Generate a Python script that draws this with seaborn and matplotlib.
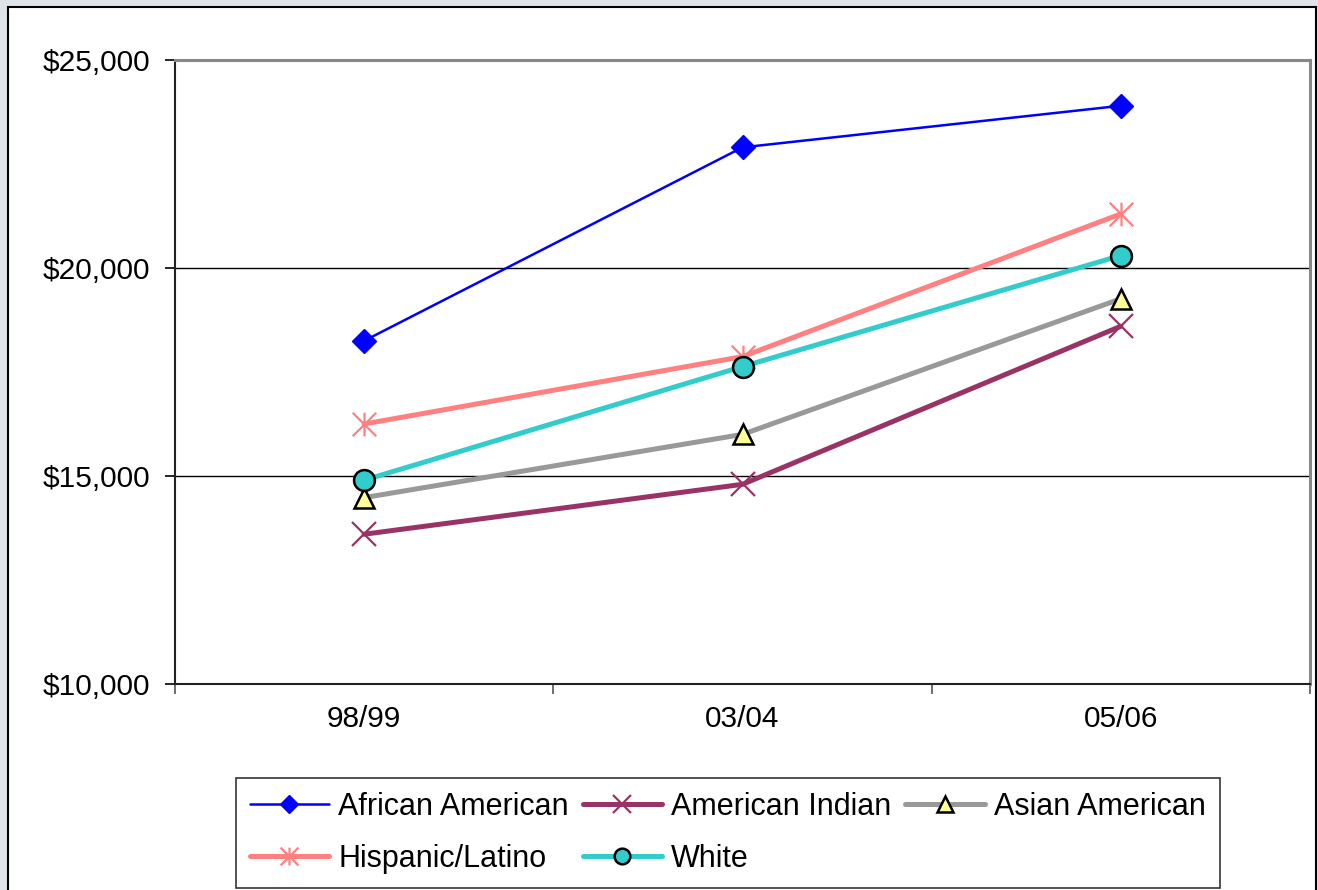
import matplotlib
matplotlib.use("Agg")
import matplotlib.pyplot as plt
import seaborn as sns
import pandas as pd
from matplotlib.path import Path
from matplotlib.patches import Rectangle
from matplotlib.ticker import FuncFormatter, FixedLocator

years = ["98/99", "03/04", "05/06"]
african_american = [18250, 22900, 23900]
american_indian = [13600, 14800, 18600]
asian_american = [14480, 16000, 19260]
hispanic_latino = [16250, 17870, 21300]
white = [14900, 17630, 20300]

series_names = ["African American", "American Indian", "Asian American",
                "Hispanic/Latino", "White"]
series_values = [african_american, american_indian, asian_american,
                 hispanic_latino, white]

sns.set_theme(style="white")
plt.rcParams['font.family'] = ['Liberation Sans', 'DejaVu Sans']
plt.rcParams['text.color'] = 'black'

W, H = 1318, 890
fig = plt.figure(figsize=(W / 100, H / 100), dpi=100, facecolor="#dfe4eb")

# white panel with black border
fig.patches.append(Rectangle((8 / W, -0.01), (1316 - 8) / W, 1 - 7 / H + 0.01,
                             transform=fig.transFigure, facecolor="white",
                             edgecolor="black", linewidth=1.5, zorder=-5))

ax = fig.add_axes([175 / W, 1 - 684 / H, (1310 - 175) / W, (684 - 60) / H])
ax.set_facecolor("white")
ax.set_zorder(2)

asterisk = Path([(0, -1), (0, 1), (-1, -1), (1, 1), (-1, 1), (1, -1)],
                [Path.MOVETO, Path.LINETO, Path.MOVETO, Path.LINETO,
                 Path.MOVETO, Path.LINETO])

styles = {
    "African American": dict(color="#0000ff", lw=1.8, marker="D", ms=12,
                             mfc="#0000ff", mec="#0000ff", mew=1),
    "American Indian": dict(color="#993366", lw=3.6, marker="x", ms=17,
                            mfc="#993366", mec="#993366", mew=1.6),
    "Asian American": dict(color="#999999", lw=3.6, marker="^", ms=15,
                           mfc="#ffff99", mec="black", mew=1.8),
    "Hispanic/Latino": dict(color="#ff8080", lw=3.6, marker=asterisk, ms=17,
                            mfc="#ff8080", mec="#ff8080", mew=1.6),
    "White": dict(color="#33cccc", lw=3.6, marker="o", ms=15,
                  mfc="#33cccc", mec="black", mew=1.8),
}

handles = {}
for name, vals in zip(series_names, series_values):
    df = pd.DataFrame({"year": years, "value": vals})
    st = styles[name]
    sns.lineplot(data=df, x="year", y="value", ax=ax, color=st["color"],
                 linewidth=st["lw"], marker=st["marker"], markersize=st["ms"],
                 markerfacecolor=st["mfc"], markeredgecolor=st["mec"],
                 markeredgewidth=st["mew"], label=name, sort=False, zorder=3)
    handles[name] = ax.get_lines()[-1]

ax.set_xlim(-0.5, 2.5)
ax.set_ylim(10000, 25000)
ax.set_yticks([10000, 15000, 20000, 25000])
ax.yaxis.set_major_formatter(FuncFormatter(lambda v, p: f"${v:,.0f}"))
ax.grid(axis="y", color="black", linewidth=1.0)
ax.set_axisbelow(True)
ax.set_xlabel("")
ax.set_ylabel("")

ax.xaxis.set_minor_locator(FixedLocator([-0.5, 0.5, 1.5, 2.5]))
ax.tick_params(axis="x", which="major", length=0, pad=15, labelsize=21.5,
               colors="black")
ax.tick_params(axis="x", which="minor", length=7, width=1.2, color="#555555",
               direction="out", bottom=True)
ax.tick_params(axis="y", which="major", length=7, width=1.2, color="black",
               direction="out", left=True, pad=11, labelsize=21.5,
               labelcolor="black")

for side in ["left", "bottom"]:
    ax.spines[side].set_color("#222222")
    ax.spines[side].set_linewidth(1.5)
for side in ["top", "right"]:
    ax.spines[side].set_color("#888888")
    ax.spines[side].set_linewidth(2.2)

ax.get_legend().remove()
order = ["African American", "Hispanic/Latino", "American Indian", "White",
         "Asian American"]
leg = fig.legend([handles[n] for n in order], order, ncol=3,
                 loc="upper left", bbox_to_anchor=(236 / W, 1 - 778 / H),
                 bbox_transform=fig.transFigure, fontsize=22, frameon=True,
                 fancybox=False, edgecolor="black", handlelength=2.6,
                 handletextpad=0.3, columnspacing=0.45, borderpad=0.45,
                 labelspacing=0.72, markerscale=0.75, borderaxespad=0)
leg.get_frame().set_linewidth(1.2)
for t in leg.get_texts():
    t.set_color("black")

fig.savefig("out.png", dpi=100, facecolor=fig.get_facecolor())
